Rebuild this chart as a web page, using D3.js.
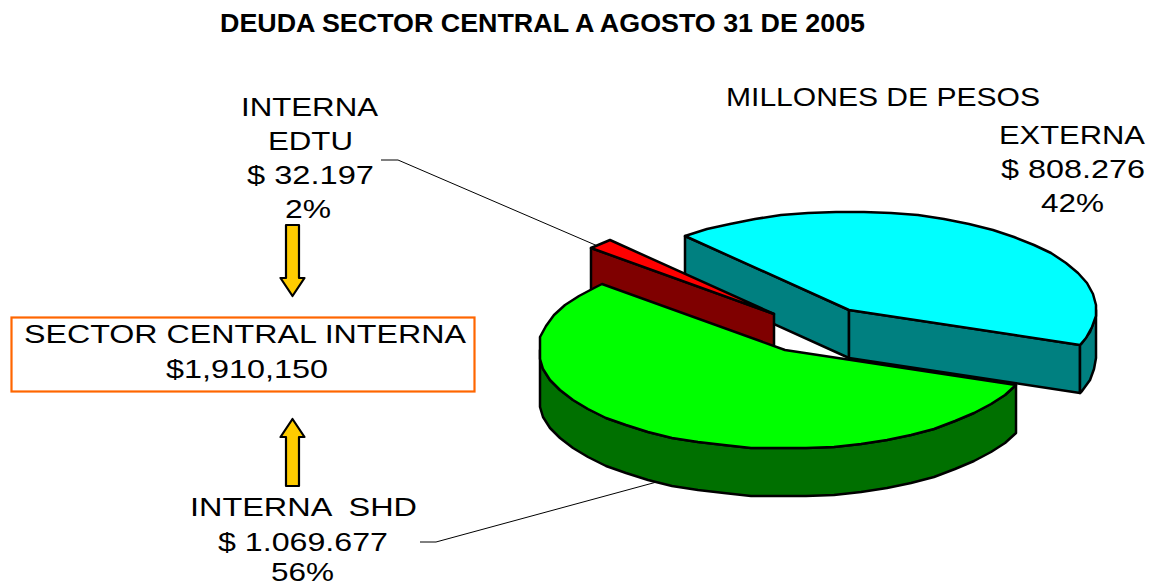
<!DOCTYPE html>
<html><head><meta charset="utf-8">
<script src="https://cdn.jsdelivr.net/npm/d3@7/dist/d3.min.js"></script>
<style>html,body{margin:0;padding:0;background:#fff}svg{display:block}</style>
</head><body><div id="c"></div>
<script>
const categories = ["EXTERNA", "INTERNA SHD", "INTERNA EDTU"];
const values = [808276, 1069677, 32197];
const topColors = ["#00FFFF", "#00FF00", "#FF0000"];
const sideColors = ["#008080", "#007000", "#7F0000"];
const centers = [[849, 310], [785, 350], [774, 314]];
const labels = [
  ["DEUDA SECTOR CENTRAL A AGOSTO 31 DE 2005", 220, 865, 32, 26, "bold"],
  ["MILLONES DE PESOS", 726, 1040, 106, 26],
  ["EXTERNA", 999, 1145, 144, 26],
  ["$ 808.276", 1001, 1145, 178, 26],
  ["42%", 1041, 1104, 212, 26],
  ["INTERNA", 241, 378, 116, 26],
  ["EDTU", 268, 353, 150, 26],
  ["$ 32.197", 247, 374, 184, 26],
  ["2%", 285, 331, 218, 26],
  ["SECTOR CENTRAL INTERNA", 24, 466, 343, 26],
  ["$1,910,150", 166, 328, 378, 26],
  ["INTERNA  SHD", 190, 417, 516, 26],
  ["$ 1.069.677", 218, 388, 551, 26],
  ["56%", 271, 334, 581, 26]
];
const leaders = [[[381,160],[398,160],[600,247]], [[420,542],[436,542],[664,480]]];
const arrows = [[292.5, 225, 296], [292.5, 486, 419]];

const W = 1155, H = 587, RX = 247, RY = 98.5, DEPTH = 48, STEP = Math.PI / 28;
const svg = d3.select("#c").append("svg").attr("width", W).attr("height", H);
const rad = d => d * Math.PI / 180;
const pie = d3.pie().sort(null).startAngle(rad(-41.6)).endAngle(rad(318.4));
const arcs = pie(values);
const line = d3.line().curve(d3.curveLinear);
const stroke = {stroke: "#000", "stroke-width": 2.5, "stroke-linejoin": "round"};

leaders.forEach(l => svg.append("path").attr("d", line(l)).attr("fill", "none").attr("stroke", "#000").attr("stroke-width", 1));

function proj(i, t, drop = 0) {
  const x = d3.scaleLinear().domain([-1, 1]).range([centers[i][0] - RX, centers[i][0] + RX]);
  const y = d3.scaleLinear().domain([-1, 1]).range([centers[i][1] - RY + drop, centers[i][1] + RY + drop]);
  // the source's coarse ellipse has flats at its extremes
  const ux = Math.max(Math.sin(t), -0.99);
  const uy = Math.max(-0.99, Math.min(0.99, -Math.cos(t)));
  return [Math.round(x(ux)), Math.round(y(uy))];
}
function sample(a, b) {
  const pts = d3.range(a, b, STEP); pts.push(b); return pts;
}
function draw(d) {
  const i = d.index, a = d.startAngle, b = d.endAngle;
  const g = svg.append("g");
  const apex = centers[i];
  const poly = (pts, fill) => {
    const p = g.append("path").attr("d", line(pts) + "Z").attr("fill", fill);
    Object.entries(stroke).forEach(([k, v]) => p.attr(k, v));
  };
  const radial = t => poly([apex, proj(i, t), proj(i, t, DEPTH), [apex[0], apex[1] + DEPTH]], sideColors[i]);
  if (Math.sin(a) < 0) radial(a);
  if (i === 0) radial(b);
  // outer wall: front half of the ellipse only (90 to 270 degrees)
  const lo = Math.max(a, Math.PI / 2), hi = Math.min(b, 3 * Math.PI / 2);
  if (lo < hi) {
    const ts = sample(lo, hi);
    poly(ts.map(t => proj(i, t)).concat(ts.slice().reverse().map(t => proj(i, t, DEPTH))), sideColors[i]);
  }
  poly([apex].concat(sample(a, b).map(t => proj(i, t))), topColors[i]);
}
// painter's order: back slice first
[0, 2, 1].forEach(i => draw(arcs[i]));

arrows.forEach(([cx, from, to]) => {
  const s = Math.sign(to - from), hb = to - s * 18;
  const pts = [[cx-6.5,from],[cx+6.5,from],[cx+6.5,hb],[cx+12,hb],[cx,to],[cx-12,hb],[cx-6.5,hb]];
  svg.append("path").attr("d", line(pts) + "Z").attr("fill", "#FFCC00").attr("stroke", "#000").attr("stroke-width", 2.2).attr("stroke-linejoin", "round");
});

svg.append("rect").attr("x", 11.5).attr("y", 317.5).attr("width", 463).attr("height", 74)
  .attr("fill", "#fff").attr("stroke", "#FF6600").attr("stroke-width", 2.2);

labels.forEach(([t, x0, x1, y, fs, w]) => {
  svg.append("text").text(t).attr("x", x0).attr("y", y)
    .attr("font-family", "Liberation Sans, Arial, sans-serif").attr("font-size", fs)
    .attr("font-weight", w || "normal").attr("fill", "#000")
    .attr("xml:space", "preserve").style("white-space", "pre")
    .attr("textLength", x1 - x0).attr("lengthAdjust", "spacingAndGlyphs");
});
</script></body></html>
